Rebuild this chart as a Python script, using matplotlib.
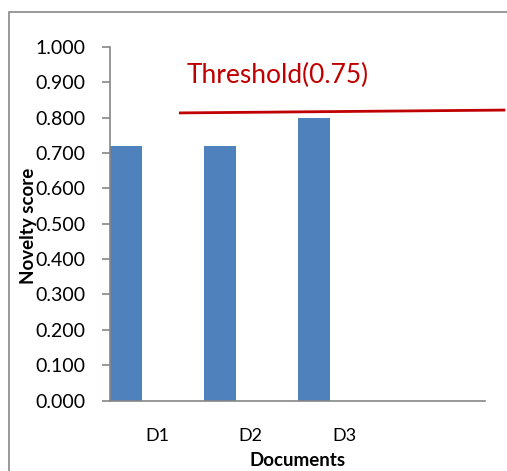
import numpy as np
import matplotlib
matplotlib.use("Agg")
import matplotlib.pyplot as plt
from matplotlib.patches import Rectangle

# data
categories = ["D1", "D2", "D3", ""]
scores = [0.72, 0.72, 0.80]
threshold_label = "Threshold(0.75)"
threshold_x = [0.25, 3.70]
threshold_y = [0.813, 0.821]

plt.rcParams['font.family'] = ['Lato', 'DejaVu Sans']

fig = plt.figure(figsize=(5.07, 4.71), dpi=100)
ax = fig.add_axes([0.217, 0.1493, 0.74, 0.7515])

gray = "#868686"
bar_color = "#4F81BD"
red = "#C00000"

# chart frame (only top and left edges are inside the crop)
fig.patches.append(Rectangle((9 / 507, -0.5), 2.0, 1.5 - 12 / 471,
                             transform=fig.transFigure, fill=False,
                             edgecolor=gray, linewidth=1.2))

x = np.arange(len(scores))
ax.bar(x - 0.5, scores, width=0.341, align="edge", color=bar_color, zorder=2)

ax.set_xlim(-0.5, len(categories) - 0.5)
ax.set_ylim(0, 1.0)
ax.set_yticks(np.arange(0, 1.01, 0.1))
ax.set_yticklabels([f"{v:.3f}" for v in np.arange(0, 1.01, 0.1)])
ax.set_xticks(np.arange(len(categories)))
ax.set_xticklabels(categories)

for s in ["top", "right"]:
    ax.spines[s].set_visible(False)
for s in ["left", "bottom"]:
    ax.spines[s].set_color(gray)
    ax.spines[s].set_linewidth(1.2)
ax.tick_params(axis="y", direction="out", length=6, color=gray, width=1.2,
               labelsize=14, pad=12)
ax.tick_params(axis="x", length=0, labelsize=13, pad=20)

fig.text(28.5 / 507, 1 - 226 / 471, "Novelty score", fontsize=13.5,
         fontweight="bold", rotation=90, ha="center", va="center")
fig.text(298 / 507, 1 - 460 / 471, "Documents", fontsize=13.5,
         fontweight="bold", ha="center", va="center")

ax.plot(threshold_x, threshold_y, color=red, linewidth=2, clip_on=False, zorder=3)
ax.text(0.32, 0.92, threshold_label, color=red, fontsize=19, va="center", ha="left")

fig.savefig("out.png", dpi=100)
